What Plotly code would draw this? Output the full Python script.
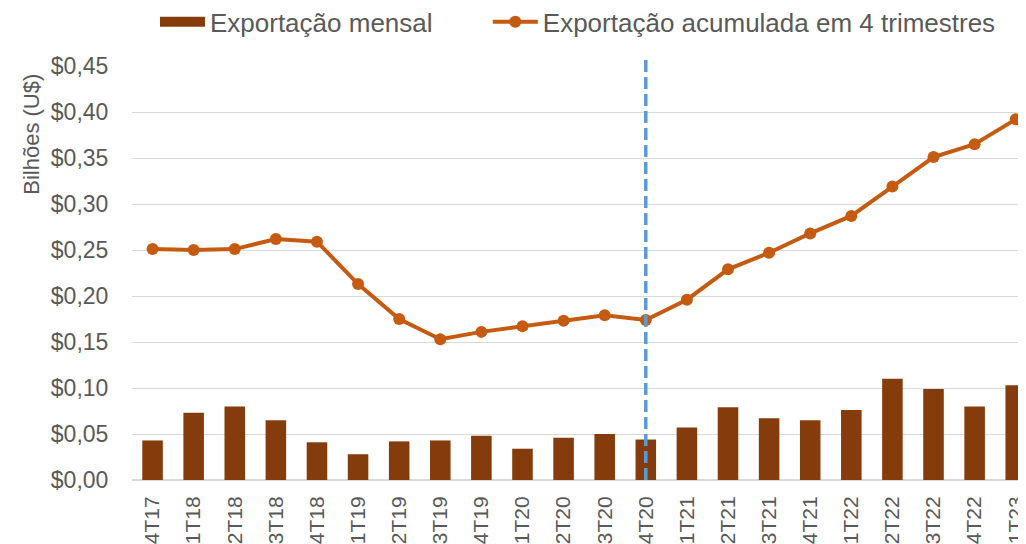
import plotly.graph_objects as go

categories = ["4T17", "1T18", "2T18", "3T18", "4T18", "1T19", "2T19", "3T19", "4T19",
              "1T20", "2T20", "3T20", "4T20", "1T21", "2T21", "3T21", "4T21",
              "1T22", "2T22", "3T22", "4T22", "1T23"]
exportacao_mensal = [0.043, 0.073, 0.080, 0.065, 0.041, 0.028, 0.042, 0.043, 0.048,
                     0.034, 0.046, 0.050, 0.044, 0.057, 0.079, 0.067, 0.065,
                     0.076, 0.110, 0.099, 0.080, 0.103]
exportacao_acumulada = [0.251, 0.250, 0.251, 0.262, 0.259, 0.213, 0.175, 0.153, 0.161,
                        0.167, 0.173, 0.179, 0.174, 0.196, 0.229, 0.247, 0.268,
                        0.287, 0.319, 0.351, 0.365, 0.392]
marker_category = "4T20"

FONT = "Liberation Sans, Arial, sans-serif"
GRAY = "#595959"
BAR_COLOR = "#843C0C"
LINE_COLOR = "#C55A11"

fig = go.Figure()
fig.add_trace(go.Bar(
    x=categories, y=exportacao_mensal, name="Exportação mensal",
    marker=dict(color=BAR_COLOR, line=dict(width=0)), width=0.5, showlegend=False,
))
# legend-only swatch drawn as a wide rectangle (like the reference)
fig.add_trace(go.Scatter(
    x=[None], y=[None], name="Exportação mensal", mode="lines",
    line=dict(color=BAR_COLOR, width=11), legend="legend",
))
fig.add_trace(go.Scatter(
    x=categories, y=exportacao_acumulada, name="Exportação acumulada em 4 trimestres",
    mode="lines+markers", line=dict(color=LINE_COLOR, width=4),
    marker=dict(color=LINE_COLOR, size=12), cliponaxis=False, legend="legend2",
))

idx = categories.index(marker_category)
fig.add_shape(type="line", xref="x", yref="paper", x0=idx, x1=idx, y0=0, y1=1.0145,
              line=dict(color="#5B9BD5", width=3.5, dash="12px,5px"), layer="above")

fig.add_annotation(text="Bilhões (U$)", xref="paper", yref="paper", x=-0.112, y=0.836,
                   textangle=-90, showarrow=False, font=dict(family=FONT, size=22, color=GRAY),
                   xanchor="center", yanchor="middle")

legend_common = dict(orientation="h", yref="container", yanchor="middle", y=0.974,
                     bgcolor="rgba(0,0,0,0)",
                     font=dict(family=FONT, size=26, color=GRAY), itemwidth=45)

fig.update_layout(
    width=1018, height=536,
    margin=dict(l=124, r=0, t=58, b=64),
    paper_bgcolor="white", plot_bgcolor="white",
    separators=",.",
    font=dict(family=FONT, color=GRAY),
    legend=dict(x=0.0257, xanchor="left", **legend_common),
    legend2=dict(x=0.398, xanchor="left", **legend_common),
    xaxis=dict(type="category", range=[-0.5, 21.25], tickangle=-90,
               tickfont=dict(family=FONT, size=21, color=GRAY), showgrid=False,
               automargin=False, ticks="outside", ticklen=7, tickcolor="rgba(0,0,0,0)",
               showline=False),
    yaxis=dict(range=[0, 0.45], dtick=0.05, tickprefix="$", tickformat=".2f",
               tickfont=dict(family=FONT, size=23, color=GRAY),
               gridcolor="#D9D9D9", gridwidth=1, zeroline=True, zerolinecolor="#D9D9D9",
               zerolinewidth=1.5, ticks="outside", ticklen=18, tickcolor="rgba(0,0,0,0)",
               automargin=False, showline=False),
)

fig.write_html("out.html")
